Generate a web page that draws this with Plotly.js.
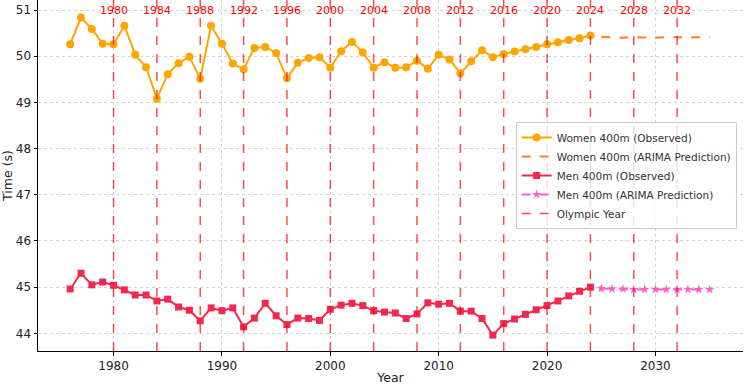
<!DOCTYPE html>
<html>
<head>
<meta charset="utf-8">
<script src="https://cdn.plot.ly/plotly-3.0.1.min.js"></script>
<style>html,body{margin:0;padding:0;background:#fff;}#chart{width:745px;height:385px;}</style>
</head>
<body>
<div id="chart"></div>
<script>
const obsYears = [1976,1977,1978,1979,1980,1981,1982,1983,1984,1985,1986,1987,1988,1989,1990,1991,1992,1993,1994,1995,1996,1997,1998,1999,2000,2001,2002,2003,2004,2005,2006,2007,2008,2009,2010,2011,2012,2013,2014,2015,2016,2017,2018,2019,2020,2021,2022,2023,2024];
const womenObs = [50.26,50.84,50.59,50.27,50.26,50.66,50.03,49.76,49.08,49.61,49.85,49.99,49.51,50.66,50.27,49.84,49.72,50.18,50.20,50.07,49.52,49.86,49.96,49.98,49.75,50.11,50.31,50.08,49.75,49.87,49.75,49.76,49.90,49.73,50.03,49.93,49.63,49.89,50.13,49.98,50.05,50.10,50.15,50.20,50.26,50.30,50.35,50.39,50.45];
const menObs = [44.96,45.30,45.05,45.11,45.04,44.94,44.83,44.83,44.70,44.74,44.57,44.50,44.27,44.55,44.49,44.55,44.14,44.33,44.65,44.38,44.19,44.33,44.32,44.28,44.52,44.61,44.65,44.60,44.49,44.46,44.44,44.32,44.42,44.66,44.63,44.65,44.48,44.48,44.32,43.96,44.21,44.31,44.41,44.51,44.60,44.70,44.81,44.91,45.00];
const predYears = [2025,2026,2027,2028,2029,2030,2031,2032,2033,2034,2035];
const womenPred = [50.42,50.41,50.40,50.41,50.40,50.40,50.41,50.41,50.40,50.41,50.41];
const menPred = [44.97,44.96,44.96,44.95,44.95,44.95,44.95,44.95,44.95,44.95,44.95];
const olympicYears = [1980,1984,1988,1992,1996,2000,2004,2008,2012,2016,2020,2024,2028,2032];
const xTicks = [1980,1990,2000,2010,2020,2030];
const yTicks = [44,45,46,47,48,49,50,51];

const FONT = 'DejaVu Sans, sans-serif';

const traces = [
  {x: obsYears, y: womenObs, name: 'Women 400m (Observed)', mode: 'lines+markers', type: 'scatter',
   line: {color: '#ffa500', width: 2}, marker: {symbol: 'circle', size: 8, color: '#ffa500'}},
  {x: predYears, y: womenPred, name: 'Women 400m (ARIMA Prediction)', mode: 'lines', type: 'scatter',
   line: {color: '#fb7d2e', width: 2, dash: 'dash'}},
  {x: obsYears, y: menObs, name: 'Men 400m (Observed)', mode: 'lines+markers', type: 'scatter',
   line: {color: '#f2284f', width: 2}, marker: {symbol: 'square', size: 7, color: '#f2284f'}},
  {x: predYears, y: menPred, name: 'Men 400m (ARIMA Prediction)', mode: 'lines+markers', type: 'scatter',
   line: {color: '#ff5ccd', width: 2, dash: 'dash'}, marker: {symbol: 'star', size: 7, color: '#ff5ccd'}},
  {x: [null], y: [null], name: 'Olympic Year', mode: 'lines', type: 'scatter',
   line: {color: 'rgba(255,0,0,0.7)', width: 1.5, dash: 'dash'}}
];

const shapes = olympicYears.map(yr => ({
  type: 'line', xref: 'x', yref: 'paper', x0: yr, x1: yr, y0: 0, y1: 1,
  line: {color: 'rgba(255,0,0,0.7)', width: 1.5, dash: 'dash'}, layer: 'above'
}));

const annotations = olympicYears.map(yr => ({
  x: yr, y: 51.0, xref: 'x', yref: 'y', text: String(yr), showarrow: false,
  font: {family: FONT, size: 11, color: 'red'}, xanchor: 'center', yanchor: 'middle'
}));

const layout = {
  width: 745, height: 385,
  margin: {l: 38, r: 2, t: 0, b: 34, pad: 0},
  paper_bgcolor: '#fff', plot_bgcolor: '#fff',
  font: {family: FONT, size: 12, color: '#222'},
  showlegend: true,
  legend: {x: 0.991, y: 0.5, xanchor: 'right', yanchor: 'middle', itemwidth: 30,
           bgcolor: 'rgba(255,255,255,0.8)', bordercolor: '#cccccc', borderwidth: 1,
           font: {family: FONT, size: 10.5, color: '#333'}, tracegroupgap: 0},
  xaxis: {range: [1973.03, 2038.08], tickvals: xTicks, ticktext: xTicks.map(String),
          showgrid: true, gridcolor: '#d3d3d3', griddash: 'dot', gridwidth: 1,
          showline: true, linecolor: '#000', linewidth: 1, ticks: 'outside', ticklen: 3.5, tickcolor: '#000',
          zeroline: false, tickfont: {size: 12, family: FONT, color: '#222'},
          title: {text: 'Year', font: {size: 12.5, family: FONT, color: '#222'}, standoff: 4}},
  yaxis: {range: [43.617, 51.217], tickvals: yTicks, ticktext: yTicks.map(String),
          showgrid: true, gridcolor: '#d3d3d3', griddash: 'dot', gridwidth: 1,
          showline: true, linecolor: '#000', linewidth: 1, ticks: 'outside', ticklen: 3.5, tickcolor: '#000',
          zeroline: false, tickfont: {size: 12, family: FONT, color: '#222'},
          title: {text: 'Time (s)', font: {size: 12.5, family: FONT, color: '#222'}, standoff: 6}},
  shapes: shapes,
  annotations: annotations
};

Plotly.newPlot('chart', traces, layout, {displayModeBar: false, staticPlot: true});
</script>
</body>
</html>
